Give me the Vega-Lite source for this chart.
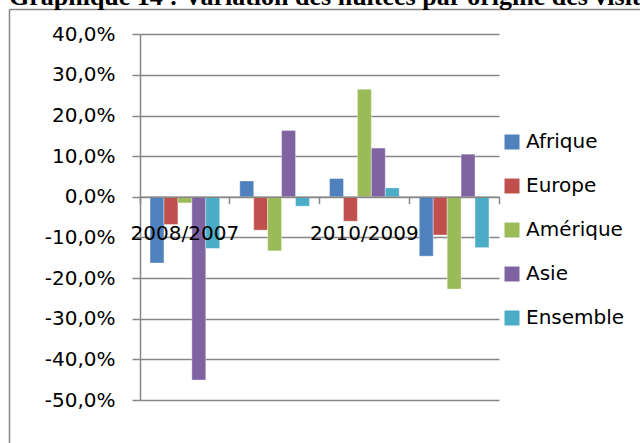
{
  "$schema": "https://vega.github.io/schema/vega-lite/v6.json",
  "width": 631,
  "height": 434,
  "autosize": {"type": "none"},
  "padding": {"left": 9, "top": 9, "right": 0, "bottom": 0},
  "background": "white",
  "title": {
    "text": "Graphique 14 : Variation des nuitées par origine des visiteurs",
    "anchor": "start",
    "frame": "group",
    "font": "Liberation Serif",
    "fontSize": 26,
    "fontWeight": "bold",
    "color": "black",
    "baseline": "alphabetic",
    "offset": 0,
    "dy": 22
  },
  "config": {"view": {"stroke": null}},
  "data": {
    "values": [
      {"periode": "2008/2007", "origine": "Afrique", "variation": -16.3},
      {"periode": "2008/2007", "origine": "Europe", "variation": -6.8},
      {"periode": "2008/2007", "origine": "Amérique", "variation": -1.5},
      {"periode": "2008/2007", "origine": "Asie", "variation": -45.1},
      {"periode": "2008/2007", "origine": "Ensemble", "variation": -12.7},
      {"periode": "2009/2008", "origine": "Afrique", "variation": 3.9},
      {"periode": "2009/2008", "origine": "Europe", "variation": -8.2},
      {"periode": "2009/2008", "origine": "Amérique", "variation": -13.3},
      {"periode": "2009/2008", "origine": "Asie", "variation": 16.3},
      {"periode": "2009/2008", "origine": "Ensemble", "variation": -2.3},
      {"periode": "2010/2009", "origine": "Afrique", "variation": 4.5},
      {"periode": "2010/2009", "origine": "Europe", "variation": -6.0},
      {"periode": "2010/2009", "origine": "Amérique", "variation": 26.5},
      {"periode": "2010/2009", "origine": "Asie", "variation": 12.0},
      {"periode": "2010/2009", "origine": "Ensemble", "variation": 2.2},
      {"periode": "2011/2010", "origine": "Afrique", "variation": -14.6},
      {"periode": "2011/2010", "origine": "Europe", "variation": -9.4},
      {"periode": "2011/2010", "origine": "Amérique", "variation": -22.7},
      {"periode": "2011/2010", "origine": "Asie", "variation": 10.5},
      {"periode": "2011/2010", "origine": "Ensemble", "variation": -12.5}
    ]
  },
  "resolve": {"scale": {"x": "independent", "y": "independent", "color": "independent"}, "axis": {"x": "independent", "y": "independent"}},
  "layer": [
    {
      "mark": {"type": "bar", "stroke": "white", "strokeWidth": 0.6, "strokeOpacity": 0.6},
      "encoding": {
        "x": {
          "field": "periode",
          "type": "nominal",
          "sort": null,
          "title": null,
          "scale": {"range": [131, 490], "paddingInner": 0, "paddingOuter": 0},
          "axis": {
            "orient": "bottom",
            "offset": -246.3,
            "bandPosition": 1,
            "tickExtra": true,
            "domainColor": "#878787",
            "domainWidth": 1.5,
            "tickColor": "#878787",
            "tickWidth": 1.5,
            "tickSize": 7,
            "labelFont": "DejaVu Sans",
            "labelFontSize": 20,
            "labelColor": "black",
            "labelPadding": 20,
            "labelAngle": 0,
            "labelOverlap": false,
            "labelExpr": "datum.value == '2009/2008' || datum.value == '2011/2010' ? '' : datum.label",
            "grid": false,
            "zindex": 1
          }
        },
        "xOffset": {
          "field": "origine",
          "type": "nominal",
          "sort": ["Afrique", "Europe", "Amérique", "Asie", "Ensemble"],
          "scale": {"paddingOuter": 0.72, "paddingInner": 0}
        },
        "y": {
          "field": "variation",
          "type": "quantitative",
          "title": null,
          "scale": {"domain": [-50, 40], "range": [391, 25.3], "nice": false, "zero": false},
          "axis": {
            "orient": "left",
            "offset": -131,
            "values": [-50, -40, -30, -20, -10, 0, 10, 20, 30, 40],
            "labelExpr": "replace(replace(format(datum.value, '.1f'), '.', ','), '−', '-') + '%'",
            "grid": true,
            "gridColor": "#878787",
            "gridWidth": 1.5,
            "domainColor": "#878787",
            "domainWidth": 1.5,
            "tickColor": "#878787",
            "tickWidth": 1.5,
            "tickSize": 8,
            "labelFont": "DejaVu Sans",
            "labelFontSize": 20,
            "labelColor": "black",
            "labelPadding": 17,
            "zindex": 0
          }
        },
        "color": {
          "field": "origine",
          "type": "nominal",
          "sort": ["Afrique", "Europe", "Amérique", "Asie", "Ensemble"],
          "scale": {
            "domain": ["Afrique", "Europe", "Amérique", "Asie", "Ensemble"],
            "range": ["#4F81BD", "#C0504D", "#9BBB59", "#8064A2", "#4BACC6"]
          },
          "legend": {
            "title": null,
            "orient": "none",
            "legendX": 493,
            "legendY": 123,
            "padding": 0,
            "symbolType": "square",
            "symbolSize": 225,
            "symbolStrokeWidth": 0,
            "labelFont": "DejaVu Sans",
            "labelFontSize": 20,
            "labelColor": "black",
            "labelOffset": 4,
            "rowPadding": 24
          }
        }
      }
    },
    {
      "transform": [{"filter": "datum.periode == '2008/2007' && datum.origine == 'Afrique'"}],
      "mark": {"type": "point", "opacity": 0},
      "encoding": {
        "x": {
          "field": "variation",
          "type": "quantitative",
          "title": null,
          "scale": {"domain": [0, 1], "nice": false, "zero": false},
          "axis": {"orient": "top", "domainColor": "#878787", "domainWidth": 1.5, "ticks": false, "labels": false, "grid": false}
        },
        "y": {
          "field": "variation",
          "type": "quantitative",
          "title": null,
          "scale": {"domain": [0, 1], "nice": false, "zero": false},
          "axis": {"orient": "left", "offset": 0, "domainColor": "#878787", "domainWidth": 1.5, "ticks": false, "labels": false, "grid": false}
        }
      }
    }
  ]
}
